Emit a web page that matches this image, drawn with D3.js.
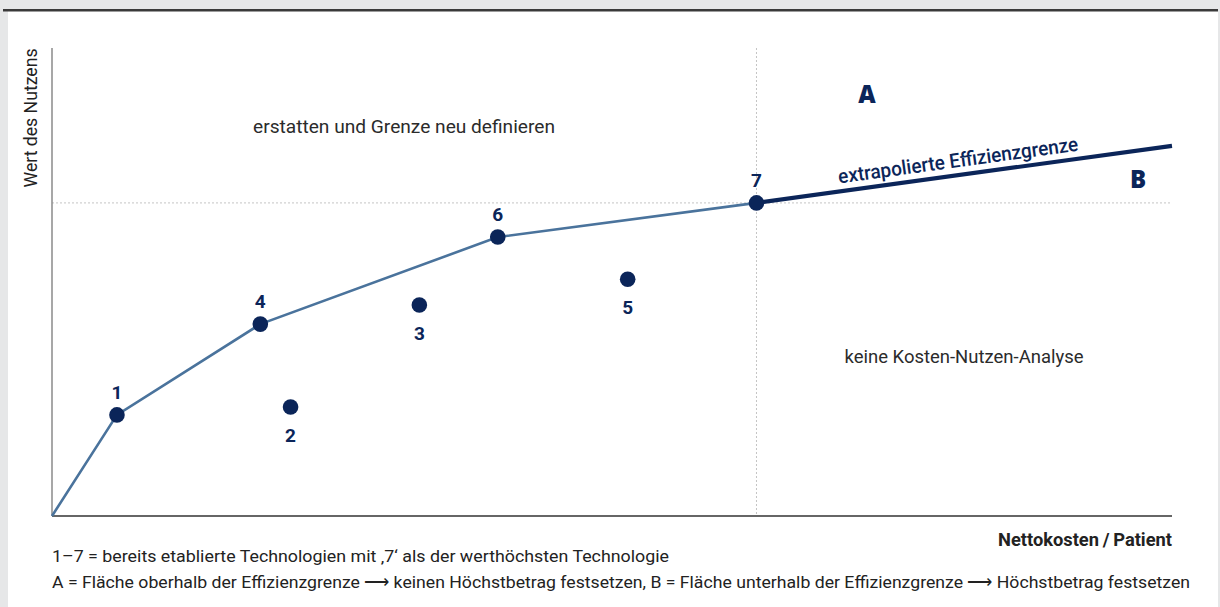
<!DOCTYPE html>
<html>
<head>
<meta charset="utf-8">
<script src="https://cdn.jsdelivr.net/npm/d3@7"></script>
<style>
	html, body { margin: 0; padding: 0; background: #e6e7e8; }
	svg { display: block; }
</style>
</head>
<body>
<svg width="1220" height="607"></svg>
<script>
// technologies 1..7, cost (x) and benefit (y) on a 0..100 scale
var techLabels = ["1", "2", "3", "4", "5", "6", "7"];
var costValues = [5.8, 21.3, 32.8, 18.6, 51.4, 39.8, 62.9];
var benefitValues = [21.6, 23.3, 45.1, 41.0, 50.6, 59.6, 66.9];
var labelBelow = [false, true, true, false, true, false, false];

// efficiency frontier: origin then technologies 1, 4, 6, 7
var frontierOrder = ["1", "4", "6", "7"];
var extrapolatedEnd = [100, 79.1];

var regionTexts = ["erstatten und Grenze neu definieren", "keine Kosten-Nutzen-Analyse"];
var footnotes = [
	"1\u20137 = bereits etablierte Technologien mit \u201a7\u2018 als der werth\u00f6chsten Technologie",
	"A = Fl\u00e4che oberhalb der Effizienzgrenze \u27f6 keinen H\u00f6chstbetrag festsetzen, B = Fl\u00e4che unterhalb der Effizienzgrenze \u27f6 H\u00f6chstbetrag festsetzen"
];

function draw(){

	var navy = "#0b2559",
		steel = "#4a739c",
		condensed = "'Roboto', sans-serif";

	var svg = d3.select("svg");

	// white panel and top rule
	svg.append("rect").attr("x", 8).attr("y", 10).attr("width", 1210).attr("height", 597).attr("fill", "#fff");
	svg.append("rect").attr("x", 3).attr("y", 9).attr("width", 1215).attr("height", 2.5).attr("fill", "#3a3a3a");

	var x = d3.scaleLinear().domain([0, 100]).range([52, 1172]),
		y = d3.scaleLinear().domain([0, 100]).range([516, 48]);

	var points = techLabels.map(function(id, i){
		return {id: id, cost: costValues[i], benefit: benefitValues[i], below: labelBelow[i]};
	});
	var byId = {};
	points.forEach(function(d){ byId[d.id] = d; });
	var peak = byId["7"];

	// dotted guides through point 7
	svg.append("line")
		.attr("x1", x(peak.cost)).attr("x2", x(peak.cost))
		.attr("y1", y(100)).attr("y2", y(0))
		.attr("stroke", "#c4c4c4").attr("stroke-width", 1).attr("stroke-dasharray", "2,2");
	svg.append("line")
		.attr("x1", x(0)).attr("x2", x(100))
		.attr("y1", y(peak.benefit)).attr("y2", y(peak.benefit))
		.attr("stroke", "#c4c4c4").attr("stroke-width", 1).attr("stroke-dasharray", "2,2");

	// axes
	svg.append("line")
		.attr("x1", x(0)).attr("x2", x(0)).attr("y1", y(100)).attr("y2", y(0))
		.attr("stroke", "#8a8a8a").attr("stroke-width", 1.5);
	svg.append("line")
		.attr("x1", x(0)).attr("x2", x(100)).attr("y1", y(0)).attr("y2", y(0))
		.attr("stroke", "#333").attr("stroke-width", 1.5);

	// frontier
	var frontier = [[0, 0]].concat(frontierOrder.map(function(id){ return [byId[id].cost, byId[id].benefit]; }));
	var line = d3.line().x(function(d){ return x(d[0]); }).y(function(d){ return y(d[1]); });

	svg.append("path")
		.attr("d", line(frontier))
		.attr("fill", "none").attr("stroke", steel).attr("stroke-width", 2.6);

	var extra = [[peak.cost, peak.benefit], extrapolatedEnd];
	svg.append("path")
		.attr("d", line(extra))
		.attr("fill", "none").attr("stroke", navy).attr("stroke-width", 4.2);

	// label along extrapolated line
	var angle = Math.atan2(y(extrapolatedEnd[1]) - y(peak.benefit), x(extrapolatedEnd[0]) - x(peak.cost)) * 180 / Math.PI;
	var lx = x(peak.cost + (extrapolatedEnd[0] - peak.cost) * 0.49),
		ly = y(peak.benefit + (extrapolatedEnd[1] - peak.benefit) * 0.49);
	svg.append("text")
		.attr("transform", "translate(" + lx + "," + ly + ") rotate(" + angle + ") translate(0,-8)")
		.attr("text-anchor", "middle")
		.attr("font-family", condensed).attr("font-size", 20).attr("font-weight", 500)
		.attr("textLength", 242).attr("lengthAdjust", "spacingAndGlyphs")
		.attr("fill", navy)
		.text("extrapolierte Effizienzgrenze");

	// dots
	svg.selectAll("circle.tech").data(points).enter().append("circle")
		.attr("class", "tech")
		.attr("cx", function(d){ return x(d.cost); })
		.attr("cy", function(d){ return y(d.benefit); })
		.attr("r", 7.8)
		.attr("fill", navy);

	svg.selectAll("text.tech").data(points).enter().append("text")
		.attr("class", "tech")
		.attr("x", function(d){ return x(d.cost); })
		.attr("y", function(d){ return y(d.benefit) + (d.below ? 35 : -16); })
		.attr("text-anchor", "middle")
		.attr("font-family", "Roboto, sans-serif").attr("font-size", 19).attr("font-weight", 700)
		.attr("fill", navy)
		.text(function(d){ return d.id; });

	// region letters
	svg.append("text").attr("x", 867).attr("y", 103).attr("text-anchor", "middle")
		.attr("font-family", "'Open Sans', sans-serif").attr("font-size", 24).attr("font-weight", 800)
		.attr("fill", navy).text("A");
	svg.append("text").attr("x", 1138).attr("y", 188).attr("text-anchor", "middle")
		.attr("font-family", "'Open Sans', sans-serif").attr("font-size", 24).attr("font-weight", 800)
		.attr("fill", navy).text("B");

	// region descriptions
	svg.append("text").attr("x", 404).attr("y", 133).attr("text-anchor", "middle")
		.attr("font-family", "Roboto, sans-serif").attr("font-size", 19).attr("fill", "#2b2b2b")
		.attr("textLength", 302).attr("lengthAdjust", "spacingAndGlyphs")
		.text(regionTexts[0]);
	svg.append("text").attr("x", 964).attr("y", 363).attr("text-anchor", "middle")
		.attr("font-family", "Roboto, sans-serif").attr("font-size", 19).attr("fill", "#2b2b2b")
		.attr("textLength", 239).attr("lengthAdjust", "spacingAndGlyphs")
		.text(regionTexts[1]);

	// axis titles
	svg.append("text")
		.attr("transform", "translate(37,118) rotate(-90)")
		.attr("text-anchor", "middle")
		.attr("font-family", condensed).attr("font-size", 19).attr("fill", "#222")
		.attr("textLength", 139).attr("lengthAdjust", "spacingAndGlyphs")
		.text("Wert des Nutzens");
	svg.append("text")
		.attr("x", x(100)).attr("y", 546).attr("text-anchor", "end")
		.attr("font-family", condensed).attr("font-size", 19).attr("font-weight", 700).attr("fill", "#222")
		.attr("textLength", 174).attr("lengthAdjust", "spacingAndGlyphs")
		.text("Nettokosten\u2009/\u2009Patient");

	// footnotes
	var noteWidths = [617, 1138];
	svg.selectAll("text.note").data(footnotes).enter().append("text")
		.attr("class", "note")
		.attr("x", 52)
		.attr("y", function(d, i){ return 562 + i * 26; })
		.attr("font-family", condensed).attr("font-size", 17).attr("fill", "#222")
		.attr("textLength", function(d, i){ return noteWidths[i]; })
		.attr("lengthAdjust", "spacingAndGlyphs")
		.text(function(d){ return d; });
}

draw();
</script>
</body>
</html>
